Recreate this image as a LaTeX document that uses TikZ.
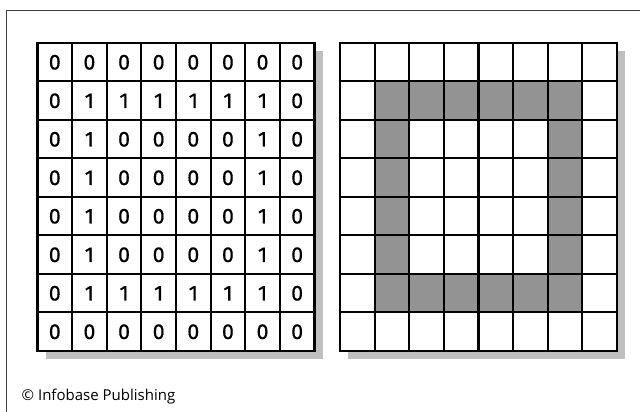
\documentclass[tikz,border=0pt]{standalone}
\usepackage{fontspec}
\setmainfont{Open Sans}
\newfontfamily\cellfont{Fira Sans}[FakeBold=0.4]
\definecolor{shadowgray}{HTML}{BFBFBF}
\definecolor{pixelgray}{HTML}{939393}

\begin{document}
\begin{tikzpicture}[x=1pt,y=-1pt,line join=miter]
  \tikzset{digit/.style={font=\cellfont\fontsize{21.5}{24}\selectfont,inner sep=0pt},
           gridline/.style={line width=2.2pt}}
  \useasboundingbox (0,0) rectangle (640,412);
  \draw[black!75,line width=1pt] (640,11)--(6,11)--(6,412);
  % shadows
  \fill[shadowgray] (45.5,50.7) rectangle (322.5,358.7);
  \fill[shadowgray] (348,50.7) rectangle (625,358.7);
  \fill[white] (37.5,42.7) rectangle (314.5,350.7);
  \fill[white] (340,42.7) rectangle (617,350.7);
  % gray pixels of the right grid
  \foreach \c in {1,...,6} {
    \fill[pixelgray] (340+\c*34.625,42.7+1*38.5) rectangle ++(34.625,38.5);
    \fill[pixelgray] (340+\c*34.625,42.7+6*38.5) rectangle ++(34.625,38.5);}
  \foreach \r in {2,...,5} {
    \fill[pixelgray] (340+1*34.625,42.7+\r*38.5) rectangle ++(34.625,38.5);
    \fill[pixelgray] (340+6*34.625,42.7+\r*38.5) rectangle ++(34.625,38.5);}
  % grids
  \foreach \gx in {37.5,340} {
    \foreach \i in {0,...,8} {
      \draw[gridline] (\gx+\i*34.625,42.7)--(\gx+\i*34.625,350.7);
      \draw[gridline] (\gx-1.1,42.7+\i*38.5)--(\gx+277+1.1,42.7+\i*38.5);}}
  % numbers of the left grid
  \foreach \row [count=\r from 0] in {{0,0,0,0,0,0,0,0},{0,1,1,1,1,1,1,0},
      {0,1,0,0,0,0,1,0},{0,1,0,0,0,0,1,0},{0,1,0,0,0,0,1,0},
      {0,1,0,0,0,0,1,0},{0,1,1,1,1,1,1,0},{0,0,0,0,0,0,0,0}} {
    \foreach \v [count=\c from 0] in \row
      \node[digit] (n\r\c) at (37.5+\c*34.625+17.3,42.7+\r*38.5+19.6) {\v};}
  \node[anchor=base west,font=\fontsize{15}{17}\selectfont,inner sep=0pt] (credit) at (21.5,400) {© Infobase Publishing};
\end{tikzpicture}
\end{document}
